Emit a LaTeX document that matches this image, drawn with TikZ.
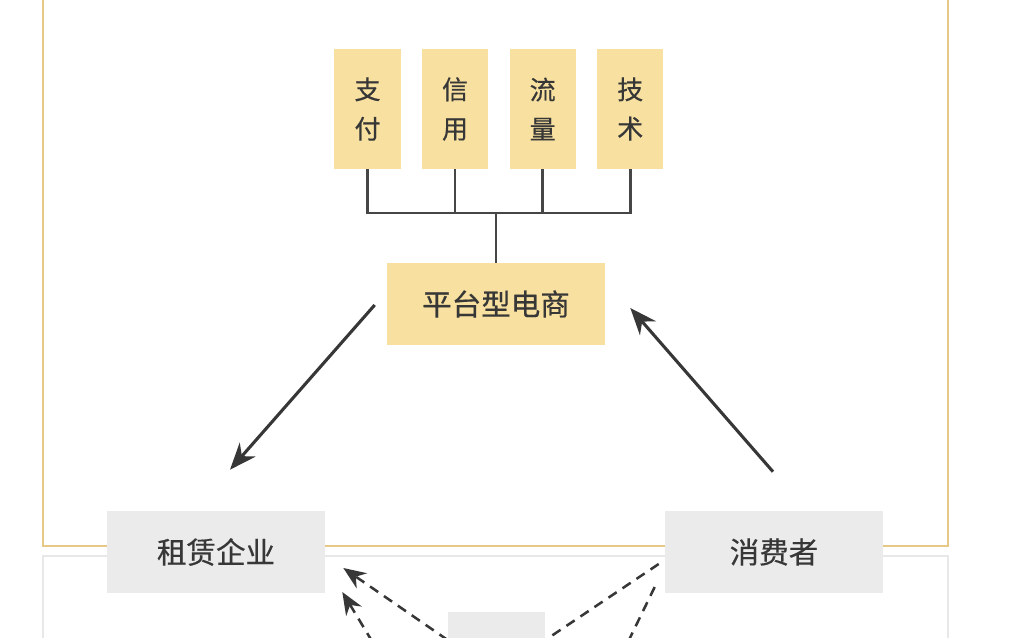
\documentclass[tikz,border=0pt]{standalone}
\usepackage{fontspec}
\setmainfont{Noto Sans CJK SC}[FakeBold=0.5]
\usetikzlibrary{positioning, calc, arrows.meta}
\definecolor{framegold}{RGB}{230,200,135}
\definecolor{boxyellow}{RGB}{248,225,160}
\definecolor{boxgray}{RGB}{235,235,235}
\definecolor{inkgray}{RGB}{55,55,55}
\definecolor{linegray}{RGB}{70,70,70}
\definecolor{paneline}{RGB}{232,232,232}
\tikzset{
	pillar/.style={rectangle, inner sep=2pt, minimum width=1.65cm, minimum height=3cm, fill=boxyellow, text=inkgray, align=center, font=\fontsize{18.5}{28}\selectfont},
	hub/.style={rectangle, inner sep=2pt, minimum width=5.45cm, minimum height=2.05cm, fill=boxyellow, text=inkgray, font=\fontsize{21}{25}\selectfont},
	party/.style={rectangle, inner sep=2pt, minimum width=5.45cm, minimum height=2.05cm, fill=boxgray, text=inkgray, font=\fontsize{21}{25}\selectfont},
	% dashed links at the bottom
	flow/.style={dash pattern=on 7pt off 5pt, line width=1.8pt, inkgray},
}

\begin{document}
\begin{tikzpicture}[x=0.025cm, y=-0.025cm]
	\useasboundingbox (0,0) rectangle (1022,638);
	\clip (0,0) rectangle (1022,638);
	
	% frames
	\draw[paneline, line width=0.8pt] (43,700) |- (948,556) -- (948,700);
	\draw[framegold, line width=1.8pt] (43,-20) |- (948,546) -- (948,-20);
	
	\node (pay) [pillar] at (367.5,109) {支\\付};
	\node (cred) [pillar, right=0.525cm of pay] {信\\用};
	\node (traffic) [pillar, right=0.525cm of cred] {流\\量};
	\node (tech) [pillar, right=0.525cm of traffic] {技\\术};
	
	\node (plat) [hub] at (496,304) {平台型电商};
	
	\node (lease) [party] at (216,552) {租赁企业};
	\node (cons) [party] at (774,552) {消费者};
	
	\node (mid) [party, minimum width=2.43cm, minimum height=1.4cm] at (496.5,640) {};
	
	\coordinate (bus) at (496,213);
	\coordinate (low1) at (381,656);
	\coordinate (low2) at (612,675);
	
	\begin{scope}[line width=2pt, linegray]
		\draw (pay.south) |- (bus) -| (tech.south);
		\draw (cred.south) -- (cred.south |- bus);
		\draw (traffic.south) -- (traffic.south |- bus);
		\draw (bus) -- (plat.north);
	\end{scope}
	
	\begin{scope}[line width=2.2pt, inkgray, -{Stealth[length=19pt, width=15pt]}]
		\draw ($(plat.west)+(-12,1)$) -- ($(lease.north)+(14,-41)$);
		\draw ($(cons.north)+(-1,-39)$) -- ($(plat.east)+(25,4)$);
	\end{scope}
	
	\begin{scope}[flow]
		\draw[-{Stealth[length=16pt, width=13pt]}] (mid.west) -- ($(lease.east)+(18,16)$);
		\draw[-{Stealth[length=16pt, width=13pt]}] (low1) -- ($(lease.east)+(17,40)$);
		\draw ($(cons.west)+(-6,12)$) -- (mid.east);
		\draw ($(cons.west)+(-10,35)$) -- (low2);
	\end{scope}
	
\end{tikzpicture}
\end{document}
